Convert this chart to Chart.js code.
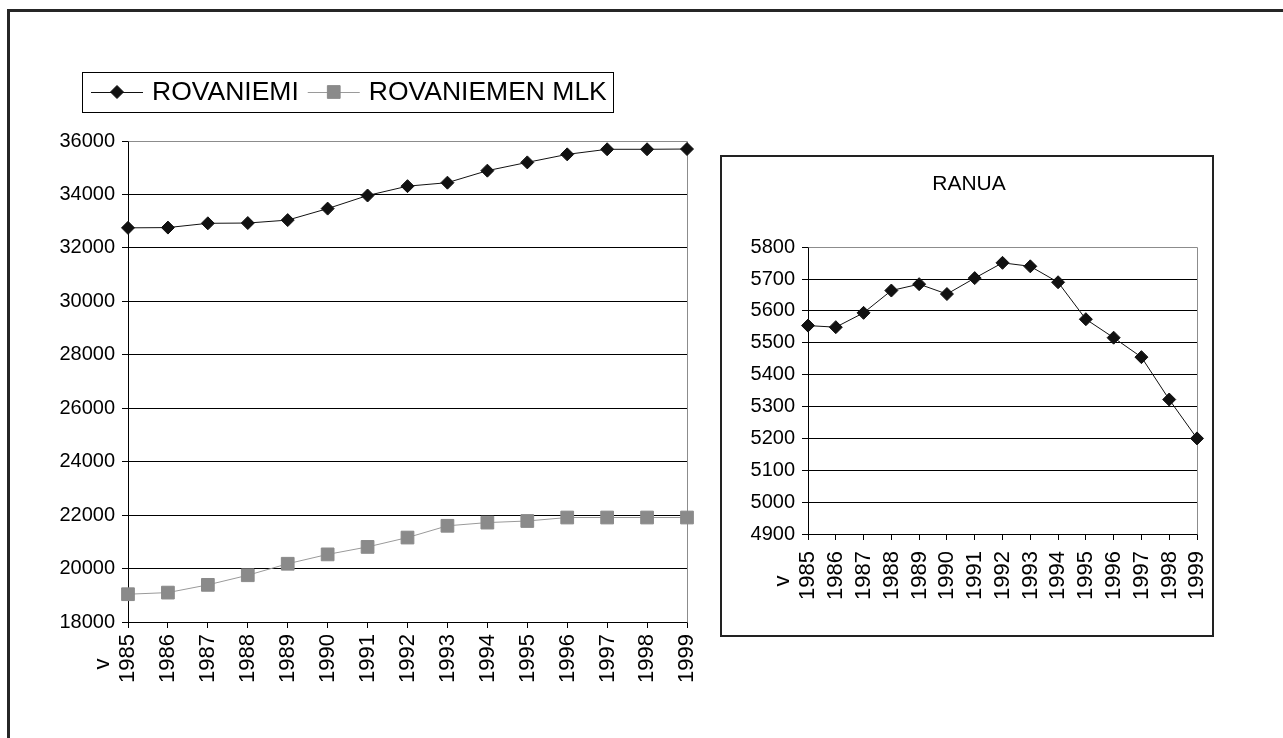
<!DOCTYPE html>
<html>
<head>
<meta charset="utf-8">
<script src="https://cdn.jsdelivr.net/npm/chart.js@4/dist/chart.umd.min.js"></script>
<style>
  html, body { margin: 0; padding: 0; background: #fff; overflow: hidden; }
  body { width: 1283px; height: 738px; position: relative; }
  #frame { position: absolute; left: 7px; top: 9px; width: 1400px; height: 900px; border: 3px solid #262626; }
  #leftChart { position: absolute; left: 0; top: 0; }
  #ranuaBox { position: absolute; left: 720px; top: 155px; width: 494px; height: 482px; border: 2px solid #222; box-sizing: border-box; }
  #ranuaChart { position: absolute; left: 0; top: 0; }
</style>
</head>
<body>
<div id="frame"></div>
<canvas id="leftChart" width="715" height="738"></canvas>
<div id="ranuaBox"><canvas id="ranuaChart" width="490" height="478"></canvas></div>
<script>
// Data
const years = ["1985", "1986", "1987", "1988", "1989", "1990", "1991", "1992", "1993", "1994", "1995", "1996", "1997", "1998", "1999"];
const rovaniemi = [32750, 32760, 32920, 32930, 33040, 33470, 33960, 34310, 34440, 34890, 35200, 35500, 35690, 35690, 35700];
const rovaniemenMlk = [19040, 19100, 19390, 19750, 20180, 20530, 20810, 21160, 21600, 21720, 21780, 21910, 21910, 21910, 21910];
const ranua = [5554, 5549, 5594, 5664, 5684, 5653, 5703, 5751, 5740, 5690, 5574, 5516, 5455, 5322, 5200];

const fontFamily = "'Liberation Sans', Arial, sans-serif";

// first label has the "v" (vuosi) in front, the others get an empty first line
const xLabels = years.map((y, i) => (i === 0 ? ["v    ", y] : ["", y]));

// gray frame of the plot area (top + right), like Excel
const plotFrame = {
  id: "plotFrame",
  beforeDatasetsDraw(chart) {
    const { ctx, chartArea: a } = chart;
    ctx.save();
    ctx.strokeStyle = "#8c8c8c";
    ctx.lineWidth = 1;
    ctx.beginPath();
    ctx.moveTo(Math.round(a.left) + 0.5, Math.round(a.top) + 0.5);
    ctx.lineTo(Math.round(a.right) + 0.5, Math.round(a.top) + 0.5);
    ctx.lineTo(Math.round(a.right) + 0.5, Math.round(a.bottom) + 0.5);
    ctx.stroke();
    ctx.restore();
  }
};

function drawMarker(ctx, style, r, x, y) {
  ctx.beginPath();
  if (style === "rectRot") {
    ctx.moveTo(x - r, y);
    ctx.lineTo(x, y - r);
    ctx.lineTo(x + r, y);
    ctx.lineTo(x, y + r);
  } else {
    const h = r * Math.SQRT1_2;
    ctx.rect(x - h, y - h, 2 * h, 2 * h);
  }
  ctx.closePath();
  ctx.fill();
  ctx.stroke();
}

// Excel-style legend with line + marker samples in a box
const boxLegend = {
  id: "boxLegend",
  afterDraw(chart) {
    const ctx = chart.ctx;
    const y = 92;
    let x = 91;
    let textEnd = x;
    ctx.save();
    ctx.font = "26.5px " + fontFamily;
    ctx.textBaseline = "middle";
    chart.data.datasets.forEach((ds) => {
      ctx.strokeStyle = ds.borderColor;
      ctx.lineWidth = 1;
      ctx.beginPath();
      ctx.moveTo(x, y + 0.5);
      ctx.lineTo(x + 52, y + 0.5);
      ctx.stroke();
      ctx.fillStyle = ds.pointBackgroundColor;
      ctx.strokeStyle = ds.pointBorderColor;
      drawMarker(ctx, ds.pointStyle, ds.pointRadius, x + 26, y);
      ctx.fillStyle = "#000";
      ctx.fillText(ds.label, x + 61, y + 1);
      textEnd = x + 61 + ctx.measureText(ds.label).width;
      x = textEnd + 9;
    });
    ctx.strokeStyle = "#000";
    ctx.lineWidth = 1;
    ctx.strokeRect(82.5, 72.5, Math.round(textEnd + 6 - 82), 40);
    ctx.restore();
  }
};

function xScale(pad, height) {
  return {
    type: "category",
    offset: false,
    grid: { drawOnChartArea: false, drawTicks: true, tickLength: 6, tickColor: "#000", offset: false },
    border: { color: "#000", width: 1 },
    ticks: {
      autoSkip: false,
      minRotation: 90,
      maxRotation: 90,
      padding: pad,
      labelOffset: -25,
      color: "#000",
      font: { family: fontFamily, size: 22, lineHeight: 1.15 }
    },
    afterFit(s) {
      s.height = height;
      s.paddingLeft = 0;
      s.paddingRight = 0;
    }
  };
}

function yScale(min, max, step, width) {
  return {
    min: min,
    max: max,
    grid: { color: "#000", lineWidth: 1, tickLength: 6, tickColor: "#000" },
    border: { color: "#000", width: 1 },
    ticks: {
      stepSize: step,
      padding: 7,
      color: "#000",
      font: { family: fontFamily, size: 20 },
      callback: (v) => String(v)
    },
    afterFit(s) { s.width = width; }
  };
}

// Vasen kaavio
new Chart(document.getElementById("leftChart"), {
  type: "line",
  data: {
    labels: xLabels,
    datasets: [
      {
        label: "ROVANIEMI",
        data: rovaniemi,
        borderColor: "#111",
        borderWidth: 1,
        pointStyle: "rectRot",
        pointRadius: 6.5,
        pointBackgroundColor: "#111",
        pointBorderColor: "#111",
        pointBorderWidth: 1,
        tension: 0
      },
      {
        label: "ROVANIEMEN MLK",
        data: rovaniemenMlk,
        borderColor: "#9a9a9a",
        borderWidth: 1,
        pointStyle: "rect",
        pointRadius: 9,
        pointBackgroundColor: "#8a8a8a",
        pointBorderColor: "#8a8a8a",
        pointBorderWidth: 1,
        tension: 0
      }
    ]
  },
  options: {
    responsive: false,
    animation: false,
    layout: { padding: { left: 30, right: 28, top: 141, bottom: 0 } },
    plugins: { legend: { display: false }, tooltip: { enabled: false } },
    scales: {
      x: xScale(6, 116),
      y: yScale(18000, 36000, 2000, 98)
    }
  },
  plugins: [plotFrame, boxLegend]
});

// RANUA
new Chart(document.getElementById("ranuaChart"), {
  type: "line",
  data: {
    labels: xLabels,
    datasets: [
      {
        label: "RANUA",
        data: ranua,
        borderColor: "#111",
        borderWidth: 1,
        pointStyle: "rectRot",
        pointRadius: 6.5,
        pointBackgroundColor: "#111",
        pointBorderColor: "#111",
        pointBorderWidth: 1,
        tension: 0
      }
    ]
  },
  options: {
    responsive: false,
    animation: false,
    layout: { padding: { left: 19, right: 15, top: 0, bottom: 0 } },
    plugins: {
      legend: { display: false },
      tooltip: { enabled: false },
      title: {
        display: true,
        text: "RANUA",
        color: "#000",
        font: { family: fontFamily, size: 21, weight: "normal", lineHeight: 1.2 },
        padding: { top: 15, bottom: 50 }
      }
    },
    scales: {
      x: xScale(11, 101),
      y: yScale(4900, 5800, 100, 67)
    }
  },
  plugins: [plotFrame]
});
</script>
</body>
</html>
